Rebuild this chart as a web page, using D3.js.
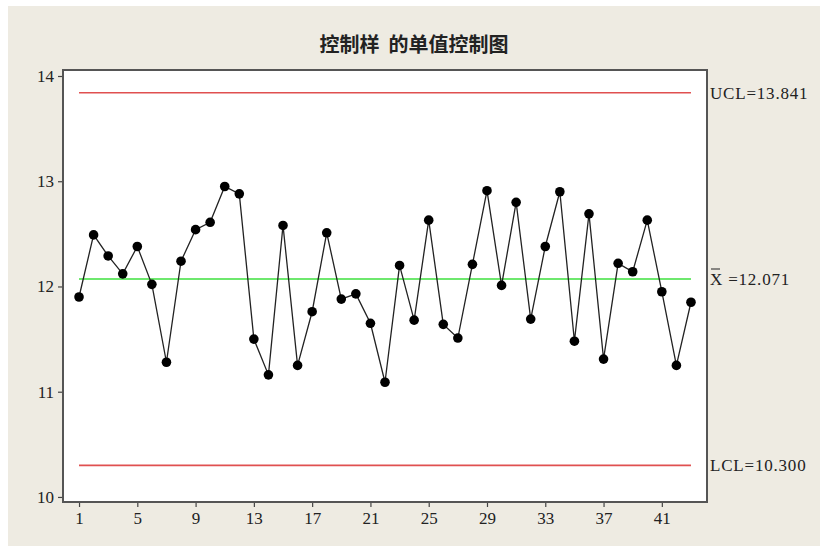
<!DOCTYPE html>
<html>
  <head>
    <meta charset="utf-8">
    <title>单值控制图</title>
    <style>
      body { margin: 0; background: #fff; }
      text { fill: #222; }
    </style>
  </head>
  <body>
    <script src="https://d3js.org/d3.v7.min.js"></script>
    <script>
      // data
      const obs = d3.range(1, 44);
      const values = [11.90, 12.49, 12.29, 12.12, 12.38, 12.02, 11.28, 12.24, 12.54, 12.61,
                      12.95, 12.88, 11.50, 11.16, 12.58, 11.25, 11.76, 12.51, 11.88, 11.93,
                      11.65, 11.09, 12.20, 11.68, 12.63, 11.64, 11.51, 12.21, 12.91, 12.01,
                      12.80, 11.69, 12.38, 12.90, 11.48, 12.69, 11.31, 12.22, 12.14, 12.63,
                      11.95, 11.25, 11.85];
      const ucl = 13.841, centre = 12.071, lcl = 10.300;
      const xTicks = [1, 5, 9, 13, 17, 21, 25, 29, 33, 37, 41];
      const yTicks = [10, 11, 12, 13, 14];

      const W = 820, H = 549;
      const svg = d3.select("body").append("svg")
        .attr("width", W)
        .attr("height", H);

      // beige panel
      svg.append("rect")
        .attr("x", 8).attr("y", 6)
        .attr("width", W - 8).attr("height", 540)
        .attr("fill", "#eeebe2");

      const pl = 63, pr = 707, pt = 70, pb = 502;
      const x = d3.scaleLinear().domain([-0.1, 44.1]).range([pl, pr]);
      const y = d3.scaleLinear().domain([9.952, 14.057]).range([pb, pt]);

      svg.append("rect")
        .attr("x", pl).attr("y", pt)
        .attr("width", pr - pl).attr("height", pb - pt)
        .attr("fill", "#fff");

      // title
      svg.append("text")
        .attr("x", 414).attr("y", 52)
        .attr("text-anchor", "middle")
        .style("font-family", "'Noto Sans CJK SC', sans-serif")
        .style("font-weight", "bold")
        .style("font-size", "20px")
        .style("white-space", "pre")
        .text("控制样  的单值控制图");

      // control lines
      const limits = [
        { v: ucl, color: "#e05050" },
        { v: centre, color: "#3ee03e" },
        { v: lcl, color: "#e05050" }
      ];
      svg.selectAll(".limit").data(limits).enter().append("line")
        .attr("x1", x(1)).attr("x2", x(43))
        .attr("y1", d => y(d.v)).attr("y2", d => y(d.v))
        .attr("stroke", d => d.color)
        .attr("stroke-width", 1.6);

      // series
      const line = d3.line().x((d, i) => x(obs[i])).y(d => y(d));
      svg.append("path")
        .datum(values)
        .attr("d", line)
        .attr("fill", "none")
        .attr("stroke", "#222")
        .attr("stroke-width", 1.3);
      svg.selectAll(".pt").data(values).enter().append("circle")
        .attr("cx", (d, i) => x(obs[i]))
        .attr("cy", d => y(d))
        .attr("r", 4.8)
        .attr("fill", "#000");

      // axes
      const font = "'Liberation Serif', serif";
      const yAxis = svg.append("g")
        .attr("transform", `translate(${pl},0)`)
        .call(d3.axisLeft(y).tickValues(yTicks).tickFormat(d3.format("d")).tickSize(5).tickPadding(4));
      const xAxis = svg.append("g")
        .attr("transform", `translate(0,${pb})`)
        .call(d3.axisBottom(x).tickValues(xTicks).tickSize(5).tickPadding(5));
      [yAxis, xAxis].forEach(g => {
        g.select(".domain").remove();
        g.selectAll("line").attr("stroke", "#444").attr("stroke-width", 1.2);
        g.selectAll("text").style("font-family", font).style("font-size", "17px").attr("fill", "#222");
      });

      // frame
      svg.append("rect")
        .attr("x", pl).attr("y", pt)
        .attr("width", pr - pl).attr("height", pb - pt)
        .attr("fill", "none")
        .attr("stroke", "#555")
        .attr("stroke-width", 2);

      // limit labels
      const lab = svg.append("g")
        .style("font-family", font)
        .style("font-size", "17px")
        .style("letter-spacing", "0.8px")
        .style("white-space", "pre");
      lab.append("text").attr("x", 710).attr("y", y(ucl) + 6).text("UCL=13.841");
      lab.append("text").attr("x", 710).attr("y", y(centre) + 6).text("X =12.071");
      lab.append("line")
        .attr("x1", 711).attr("x2", 720)
        .attr("y1", y(centre) - 10).attr("y2", y(centre) - 10)
        .attr("stroke", "#222").attr("stroke-width", 1);
      lab.append("text").attr("x", 710).attr("y", y(lcl) + 6).text("LCL=10.300");
    </script>
  </body>
</html>
